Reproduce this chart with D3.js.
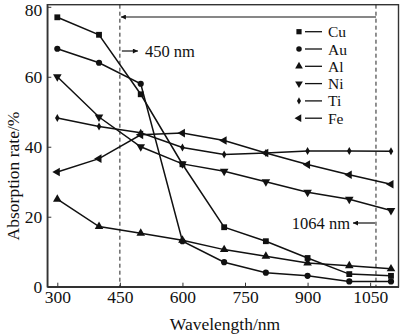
<!DOCTYPE html>
<html><head><meta charset="utf-8">
<script src="https://cdn.jsdelivr.net/npm/d3@7"></script>
<style>body{margin:0;background:#fff}svg{display:block}text{font-family:"Liberation Serif","Times New Roman",serif;fill:#111}</style>
</head><body>
<svg id="c" width="400" height="334"></svg>
<script>
const wavelengths = [300,400,500,600,700,800,900,1000,1100];
const cu = [77,72,55,35,17,13,8.2,3.6,3.1];
const au = [68,64,58,13,7,4,3.1,1.5,1.5];
const al = [25,17.2,15.3,13.3,10.6,8.7,6.8,6,5.1];
const ni = [60,48.5,40,35.1,33,30,27,25,21.8];
const ti = [48.2,45.8,44,39.8,37.8,38.2,38.8,38.8,38.7];
const fe = [32.8,36.6,43.4,43.9,41.8,38.2,34.9,32,29.3];
const seriesNames = ["Cu","Au","Al","Ni","Ti","Fe"];
const xTicks = [300,450,600,750,900,1050];
const yTicks = [0,20,40,60,80];
const markLines = [450,1064];

const svg = d3.select("#c");
const L=47.3,R=398.5,T=4.7,B=286.7;
const x = d3.scaleLinear().domain([276,1118]).range([L,R]);
const y = d3.scaleLinear().domain([0,80.6]).range([B,T]);
const ink="#111";
const FS="17.5px";

const defs = svg.append("defs");
defs.append("marker").attr("id","ah").attr("viewBox","0 0 10 10").attr("refX",10).attr("refY",5)
  .attr("markerWidth",7).attr("markerHeight",5).attr("markerUnits","userSpaceOnUse").attr("orient","auto")
  .append("path").attr("d","M0,0L10,5L0,10Z").attr("fill",ink);

// frame
svg.append("rect").attr("x",L).attr("y",T).attr("width",R-L).attr("height",B-T)
  .attr("fill","none").attr("stroke","#333").attr("stroke-width",1.4);

// axes
const xa = svg.append("g").attr("transform",`translate(0,${B})`)
  .call(d3.axisBottom(x).tickValues(xTicks).tickFormat(d3.format("d")).tickSizeInner(-4).tickSizeOuter(0).tickPadding(8));
const ya = svg.append("g").attr("transform",`translate(${L},0)`)
  .call(d3.axisLeft(y).tickValues(yTicks).tickFormat(d3.format("d")).tickSizeInner(-4).tickSizeOuter(0).tickPadding(5));
[xa,ya].forEach(g=>{g.select(".domain").attr("stroke","#333").attr("stroke-width",1.4);
  g.selectAll(".tick line").attr("stroke","#333").attr("stroke-width",1);
  g.selectAll(".tick text").style("font-size",FS).attr("fill",ink);});
xa.selectAll(".tick text").attr("dy","0.5em");
ya.selectAll(".tick text").attr("dy",d=>d===80?"0.5em":"0.35em");

svg.append("text").attr("x",225).attr("y",330).attr("text-anchor","middle").style("font-size",FS).text("Wavelength/nm");
svg.append("text").attr("transform","translate(19,176) rotate(-90)").attr("text-anchor","middle").style("font-size",FS).text("Absorption rate/%");

// dashed lines
markLines.forEach(v=>{
  svg.append("line").attr("x1",x(v)).attr("x2",x(v)).attr("y1",T).attr("y2",B)
    .attr("stroke","#222").attr("stroke-width",1).attr("stroke-dasharray","4,3");
});
// range arrow
svg.append("line").attr("x1",x(1064)).attr("x2",x(450)+1).attr("y1",17).attr("y2",17)
  .attr("stroke",ink).attr("stroke-width",1.2).attr("marker-end","url(#ah)");
// 450 nm label
svg.append("line").attr("x1",x(450)+2).attr("x2",x(450)+18).attr("y1",51).attr("y2",51)
  .attr("stroke",ink).attr("stroke-width",1.2).attr("marker-end","url(#ah)");
svg.append("text").attr("x",x(450)+25).attr("y",56.5).style("font-size","16.5px").text("450 nm");
// 1064 nm label
svg.append("line").attr("x1",x(1064)-1).attr("x2",x(1064)-23).attr("y1",223).attr("y2",223)
  .attr("stroke",ink).attr("stroke-width",1.2).attr("marker-end","url(#ah)");
svg.append("text").attr("x",x(1064)-26).attr("y",228.5).attr("text-anchor","end").style("font-size","16.5px").text("1064 nm");

// series
const data = [cu,au,al,ni,ti,fe];
const symbols = [
  {t:d3.symbolSquare,s:34,r:0},
  {t:d3.symbolCircle,s:30,r:0},
  {t:d3.symbolTriangle,s:32,r:0},
  {t:d3.symbolTriangle,s:32,r:180},
  {t:d3.symbolDiamond,s:18,r:0},
  {t:d3.symbolTriangle,s:32,r:-90}
];
const line = d3.line().x((d,i)=>x(wavelengths[i])).y(d=>y(d));
data.forEach((vals,k)=>{
  svg.append("path").datum(vals).attr("d",line).attr("fill","none").attr("stroke",ink).attr("stroke-width",1.5);
  svg.append("g").selectAll("path").data(vals).join("path")
    .attr("d",d3.symbol().type(symbols[k].t).size(symbols[k].s))
    .attr("transform",(d,i)=>`translate(${x(wavelengths[i])},${y(d)}) rotate(${symbols[k].r})`)
    .attr("fill",ink);
});

// legend
const lg = svg.append("g");
seriesNames.forEach((n,k)=>{
  const yy = 31.7 + k*17.3;
  lg.append("path").attr("d",d3.symbol().type(symbols[k].t).size(symbols[k].s*0.8))
    .attr("transform",`translate(299,${yy}) rotate(${symbols[k].r})`).attr("fill",ink);
  lg.append("line").attr("x1",305).attr("x2",322).attr("y1",yy).attr("y2",yy).attr("stroke",ink).attr("stroke-width",1.3);
  lg.append("text").attr("x",328).attr("y",yy+5.5).style("font-size","15.5px").text(n);
});
</script>
</body></html>
